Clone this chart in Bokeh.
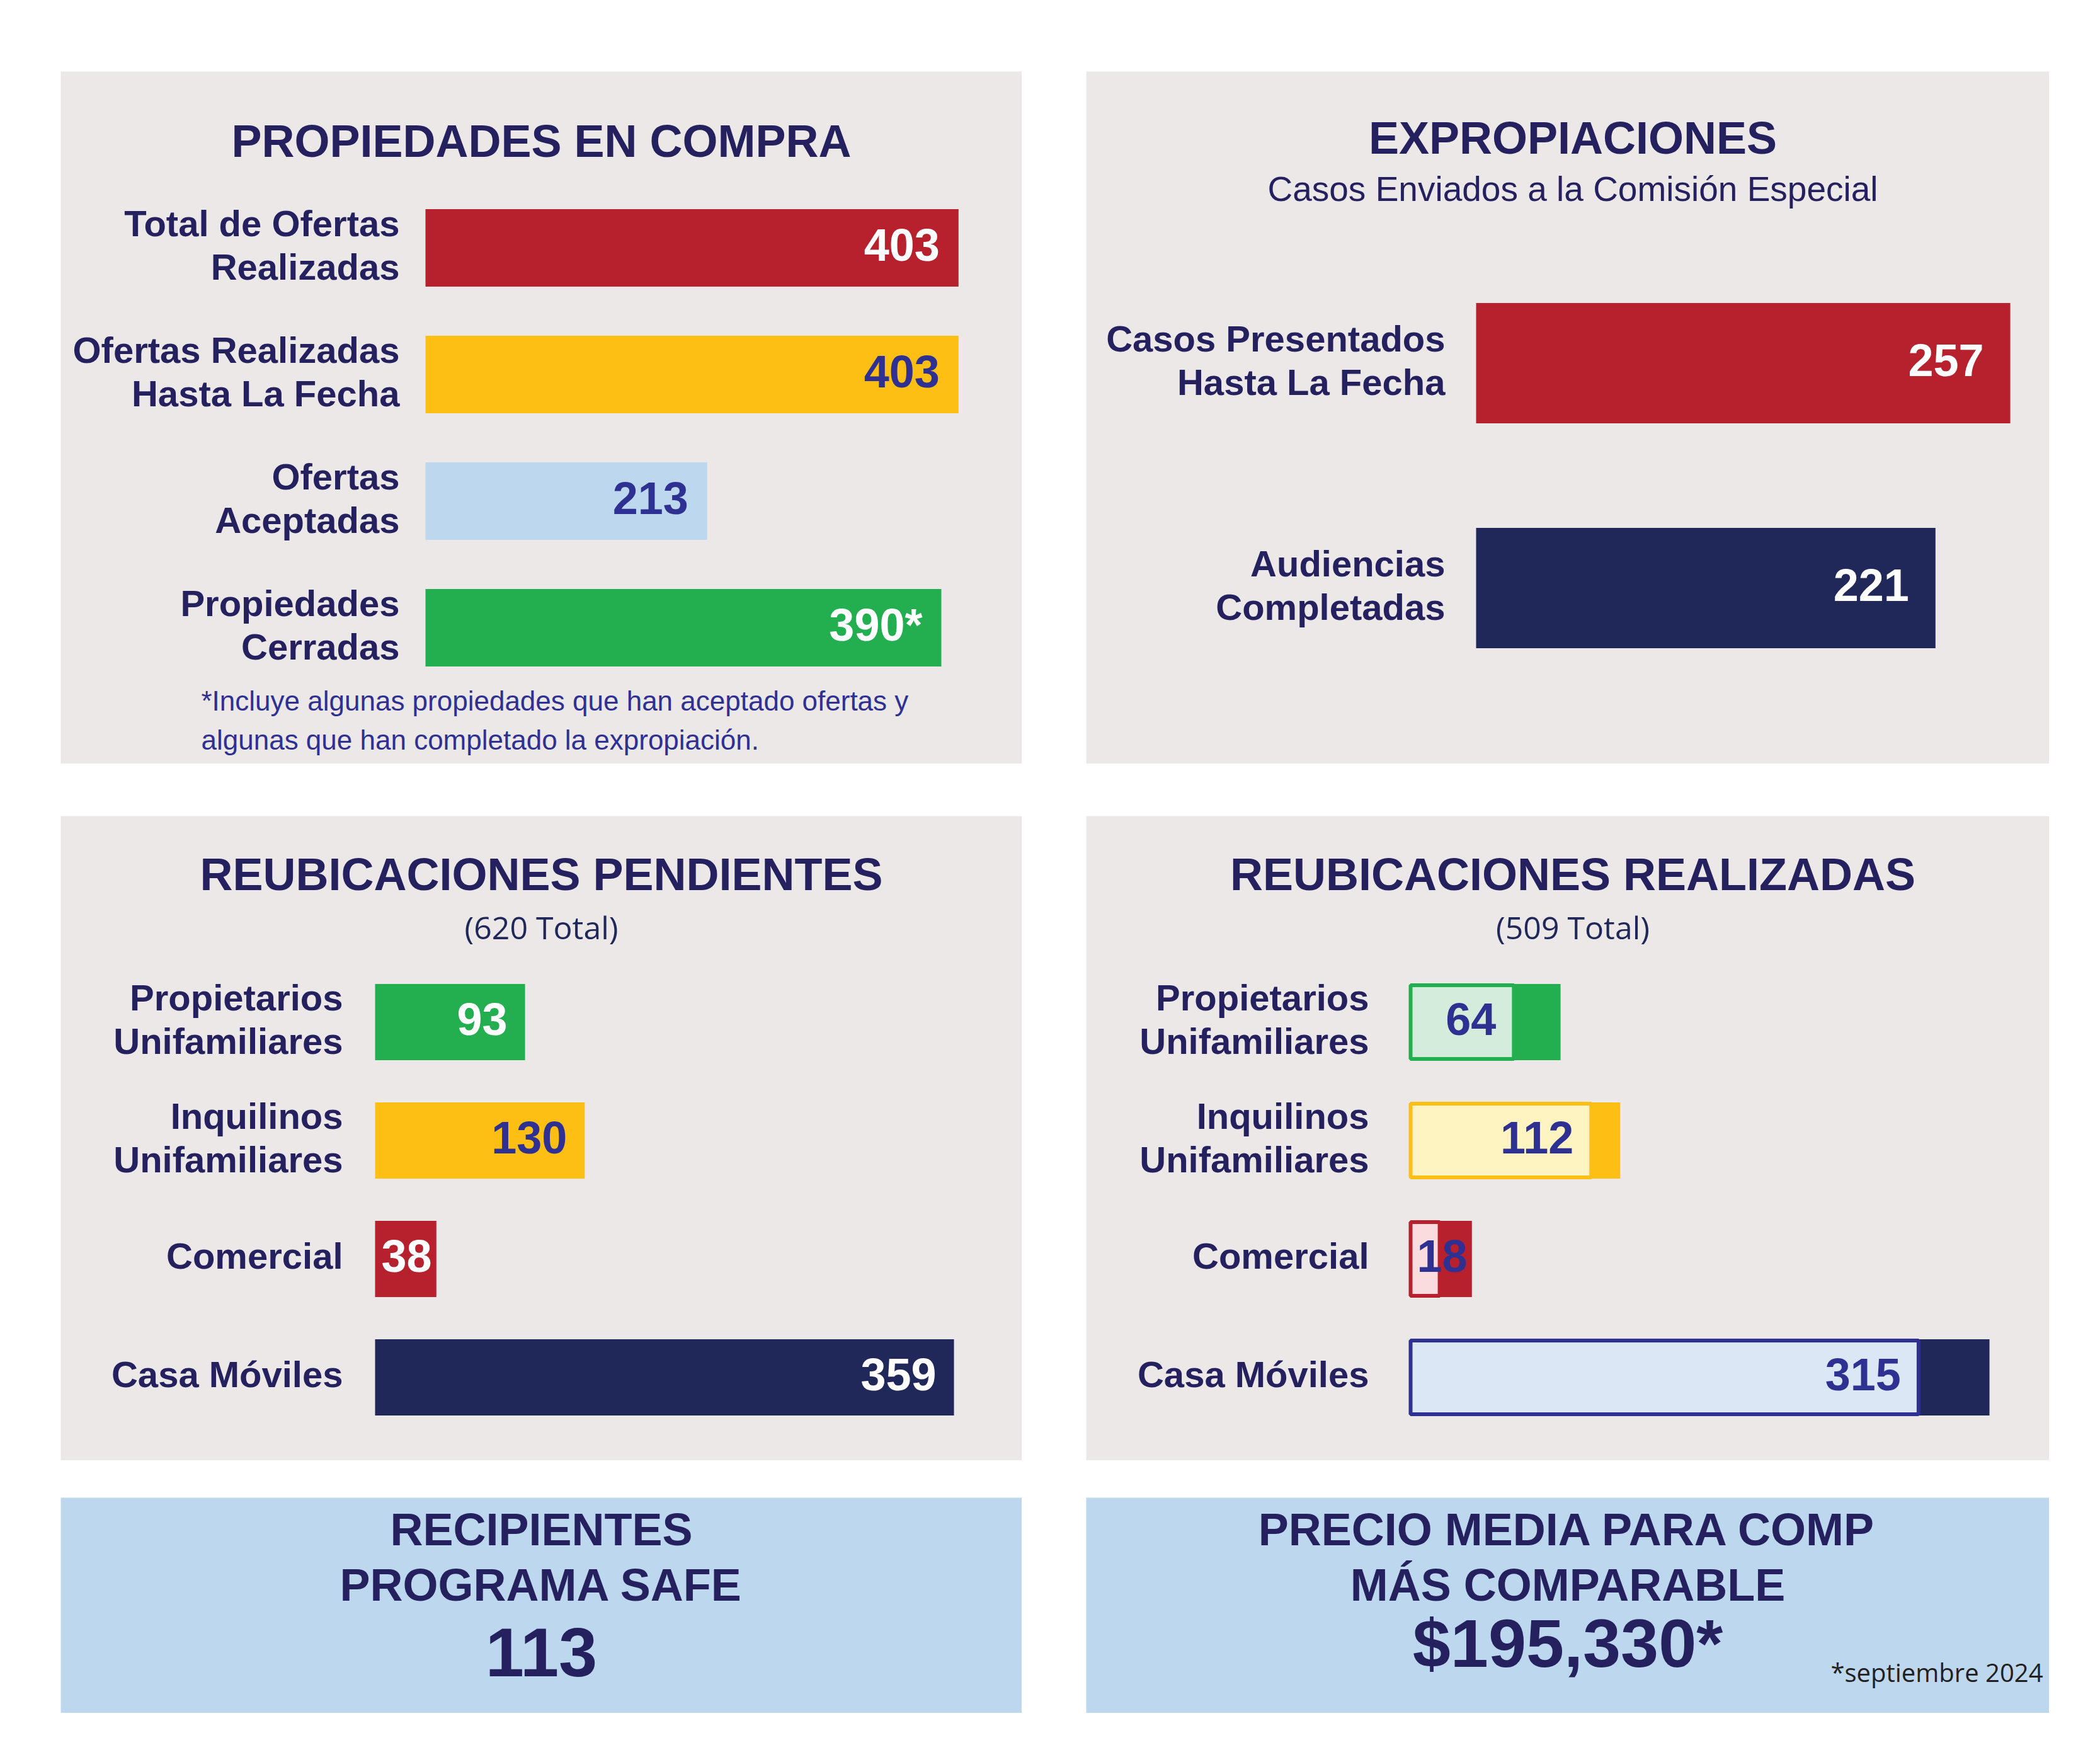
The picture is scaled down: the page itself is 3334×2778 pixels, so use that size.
from bokeh.plotting import figure
from bokeh.models import Range1d, ColumnDataSource, Spacer
from bokeh.layouts import column, row
from bokeh.core.properties import value
from bokeh.embed import file_html
from bokeh.resources import INLINE

# ---------------- data ----------------
compra_titulo = "PROPIEDADES EN COMPRA"
compra_categorias = ["Total de Ofertas\nRealizadas", "Ofertas Realizadas\nHasta La Fecha",
                     "Ofertas\nAceptadas", "Propiedades\nCerradas"]
compra_valores = [403, 403, 213, 390]
compra_marcas = ["", "", "", "*"]
compra_nota = ["*Incluye algunas propiedades que han aceptado ofertas y",
               "algunas que han completado la expropiación."]

expro_titulo = "EXPROPIACIONES"
expro_subtitulo = "Casos Enviados a la Comisión Especial"
expro_categorias = ["Casos Presentados\nHasta La Fecha", "Audiencias\nCompletadas"]
expro_valores = [257, 221]

reub_categorias = ["Propietarios\nUnifamiliares", "Inquilinos\nUnifamiliares", "Comercial", "Casa Móviles"]
pendientes_titulo = "REUBICACIONES PENDIENTES"
pendientes_valores = [93, 130, 38, 359]
realizadas_titulo = "REUBICACIONES REALIZADAS"
realizadas_valores = [64, 112, 18, 315]

safe_titulo = ["RECIPIENTES", "PROGRAMA SAFE"]
safe_valor = 113
precio_titulo = ["PRECIO MEDIA PARA COMP", "MÁS COMPARABLE"]
precio_valor = 195330
precio_nota = "*septiembre 2024"

# ---------------- styles ----------------
NAVY_TEXT = "#25215F"
BLUE_TEXT = "#2E3192"
RED = "#B7212D"
YELLOW = "#FDBF14"
LIGHTBLUE = "#BDD7EE"
GREEN = "#23AF50"
NAVY = "#20285A"
PANEL_BG = "#ECE8E7"
BOX_BG = "#BDD7EE"
WHITE = "#FFFFFF"
FONT = value("Liberation Sans")
FONT2 = value("Open Sans")


def mid(baseline_px, fs):
    """screen y of the text middle for a given baseline and font size"""
    return baseline_px - 0.36 * fs


def bar_panel(W, H, x0, k, c0, pitch, bg=PANEL_BG):
    p = figure(width=W, height=H, title=None,
               x_range=Range1d(-x0 / k, (W - x0) / k),
               y_range=Range1d((H - c0) / pitch, -c0 / pitch),
               x_axis_type=None, y_axis_type=None, toolbar_location=None,
               output_backend="svg", min_border=0,
               background_fill_color=bg, border_fill_color=bg,
               outline_line_color=None)
    p.grid.visible = False
    fx = lambda px: (px - x0) / k
    fy = lambda py: (py - c0) / pitch
    return p, fx, fy


def texts(p, xs, ys, ts, fs, color, align="center", style="bold", font=FONT):
    p.text(x=xs, y=ys, text=ts, text_font=font, text_font_size=f"{fs}px",
           text_font_style=style, text_color=color, text_align=align,
           text_baseline="middle")


def category_labels(p, fx, right_px, labels, pitch, fs=58, line_px=69):
    xs, ys, ts = [], [], []
    for i, lab in enumerate(labels):
        lines = lab.split("\n")
        n = len(lines)
        for j, ln in enumerate(lines):
            xs.append(fx(right_px))
            ys.append(i + ((j - (n - 1) / 2) * line_px - 5) / pitch)
            ts.append(ln)
    texts(p, xs, ys, ts, fs, NAVY_TEXT, align="right")


def value_labels(p, k, pitch, vals, labels, colors, pad, size_px=72):
    R = dict(x=[], y=[], t=[], c=[])
    L = dict(x=[], y=[], t=[], c=[])
    dy = -5 / pitch
    for i, (v, t, c) in enumerate(zip(vals, labels, colors)):
        w = 0.56 * size_px * len(t)
        if v * k >= w + 2 * pad:
            R["x"].append(v - pad / k); R["y"].append(i + dy); R["t"].append(t); R["c"].append(c)
        else:
            L["x"].append(10 / k); L["y"].append(i + dy); L["t"].append(t); L["c"].append(c)
    if R["x"]:
        p.text(x="x", y="y", text="t", text_color="c", source=ColumnDataSource(R),
               text_font=FONT, text_font_size=f"{size_px}px", text_font_style="bold",
               text_align="right", text_baseline="middle")
    if L["x"]:
        p.text(x="x", y="y", text="t", text_color="c", source=ColumnDataSource(L),
               text_font=FONT, text_font_size=f"{size_px}px", text_font_style="bold",
               text_align="left", text_baseline="middle")


# ---------------- panel 1: propiedades en compra ----------------
W1, H1 = 1526, 1099
k1, pitch1 = 2.1, 201
p1, fx1, fy1 = bar_panel(W1, H1, 579, k1, 280, pitch1)
src1 = ColumnDataSource(dict(y=list(range(len(compra_valores))), right=compra_valores,
                             color=[RED, YELLOW, LIGHTBLUE, GREEN]))
p1.hbar(y="y", left=0, right="right", height=123 / pitch1, fill_color="color",
        line_color=None, source=src1)
texts(p1, [fx1(W1 / 2)], [fy1(mid(136, 72))], [compra_titulo], 72, NAVY_TEXT)
category_labels(p1, fx1, 538, compra_categorias, pitch1)
value_labels(p1, k1, pitch1, compra_valores,
             [f"{v}{m}" for v, m in zip(compra_valores, compra_marcas)],
             [WHITE, BLUE_TEXT, BLUE_TEXT, WHITE], 30)
texts(p1, [fx1(223)] * 2, [fy1(mid(1015, 44)), fy1(mid(1077, 44))], compra_nota, 44,
      BLUE_TEXT, align="left", style="normal")

# ---------------- panel 2: expropiaciones ----------------
W2, H2 = 1529, 1099
k2, pitch2 = 3.3, 357
p2, fx2, fy2 = bar_panel(W2, H2, 619, k2, 463, pitch2)
src2 = ColumnDataSource(dict(y=list(range(len(expro_valores))), right=expro_valores,
                             color=[RED, NAVY]))
p2.hbar(y="y", left=0, right="right", height=191 / pitch2, fill_color="color",
        line_color=None, source=src2)
texts(p2, [fx2(W2 / 2 + 8)], [fy2(mid(131, 72))], [expro_titulo], 72, NAVY_TEXT)
texts(p2, [fx2(W2 / 2 + 8)], [fy2(mid(206, 55))], [expro_subtitulo], 55, NAVY_TEXT,
      style="normal")
category_labels(p2, fx2, 570, expro_categorias, pitch2)
value_labels(p2, k2, pitch2, expro_valores, [str(v) for v in expro_valores],
             [WHITE, WHITE], 42)

# ---------------- panel 3: reubicaciones pendientes ----------------
W3, H3 = 1526, 1023
k3, pitch3 = 2.56, 188
p3, fx3, fy3 = bar_panel(W3, H3, 499, k3, 327, pitch3)
src3 = ColumnDataSource(dict(y=list(range(len(pendientes_valores))), right=pendientes_valores,
                             color=[GREEN, YELLOW, RED, NAVY]))
p3.hbar(y="y", left=0, right="right", height=121 / pitch3, fill_color="color",
        line_color=None, source=src3)
texts(p3, [fx3(W3 / 2)], [fy3(mid(118, 72))], [pendientes_titulo], 72, NAVY_TEXT)
texts(p3, [fx3(W3 / 2)], [fy3(mid(194, 50))], [f"({sum(pendientes_valores)} Total)"], 50,
      NAVY, style="normal", font=FONT2)
category_labels(p3, fx3, 448, reub_categorias, pitch3)
value_labels(p3, k3, pitch3, pendientes_valores, [str(v) for v in pendientes_valores],
             [WHITE, BLUE_TEXT, WHITE, WHITE], 28)

# ---------------- panel 4: reubicaciones realizadas ----------------
W4, H4 = 1529, 1023
p4, fx4, fy4 = bar_panel(W4, H4, 515, k3, 327, pitch3)
src4a = ColumnDataSource(dict(y=list(range(len(pendientes_valores))), right=pendientes_valores,
                              color=[GREEN, YELLOW, RED, NAVY]))
p4.hbar(y="y", left=0, right="right", height=121 / pitch3, fill_color="color",
        line_color=None, source=src4a)
src4b = ColumnDataSource(dict(y=list(range(len(realizadas_valores))), right=realizadas_valores,
                              fill=["#D3ECDC", "#FEF4C1", "#FADCDF", "#DCE7F6"],
                              line=[GREEN, YELLOW, RED, BLUE_TEXT]))
p4.hbar(y="y", left=0, right="right", height=117 / pitch3, fill_color="fill",
        line_color="line", line_width=6, source=src4b)
texts(p4, [fx4(W4 / 2 + 8)], [fy4(mid(118, 72))], [realizadas_titulo], 72, NAVY_TEXT)
texts(p4, [fx4(W4 / 2 + 8)], [fy4(mid(194, 50))], [f"({sum(realizadas_valores)} Total)"], 50,
      NAVY, style="normal", font=FONT2)
category_labels(p4, fx4, 449, reub_categorias, pitch3)
value_labels(p4, k3, pitch3, realizadas_valores, [str(v) for v in realizadas_valores],
             [BLUE_TEXT] * 4, 28)


# ---------------- bottom boxes ----------------
def box_panel(W, H):
    p = figure(width=W, height=H, title=None, x_range=Range1d(0, W), y_range=Range1d(H, 0),
               x_axis_type=None, y_axis_type=None, toolbar_location=None,
               output_backend="svg", min_border=0,
               background_fill_color=BOX_BG, border_fill_color=BOX_BG,
               outline_line_color=None)
    p.grid.visible = False
    return p


W5, H5 = 1526, 342
p5 = box_panel(W5, H5)
texts(p5, [W5 / 2] * 2, [mid(76, 72), mid(164, 72)], safe_titulo, 72, NAVY_TEXT)
texts(p5, [W5 / 2], [mid(285, 110)], [str(safe_valor)], 110, NAVY_TEXT)

W6, H6 = 1529, 342
p6 = box_panel(W6, H6)
texts(p6, [W6 / 2] * 2, [mid(76, 72), mid(164, 72)], precio_titulo, 72, NAVY_TEXT)
texts(p6, [W6 / 2], [mid(270, 108)], [f"${precio_valor:,}*"], 108, NAVY_TEXT)
texts(p6, [1519], [mid(291, 40)], [precio_nota], 40, "#231F20", align="right",
      style="normal", font=FONT2)

layout = column(
    Spacer(width=10, height=113),
    row(Spacer(width=96, height=10), p1, Spacer(width=102, height=10), p2),
    Spacer(width=10, height=83),
    row(Spacer(width=96, height=10), p3, Spacer(width=102, height=10), p4),
    Spacer(width=10, height=59),
    row(Spacer(width=96, height=10), p5, Spacer(width=102, height=10), p6),
)

with open("out.html", "w") as f:
    f.write(file_html(layout, INLINE))
